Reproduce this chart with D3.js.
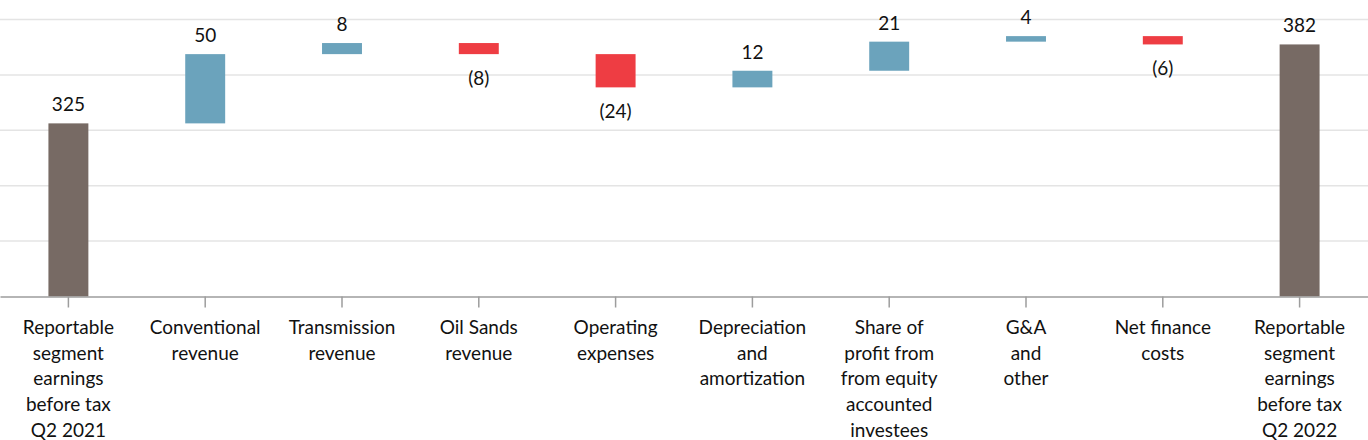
<!DOCTYPE html>
<html>
<head>
<meta charset="utf-8">
<script src="https://cdn.jsdelivr.net/npm/d3@7"></script>
<style>
  body { margin: 0; background: #fff; }
  svg { display: block; }
  text { font-family: Lato, "Open Sans", sans-serif; fill: #111; }
</style>
</head>
<body>
<script>
// waterfall steps, first and last are totals
var categories = [
  "Reportable|segment|earnings|before tax|Q2 2021",
  "Conventional|revenue",
  "Transmission|revenue",
  "Oil Sands|revenue",
  "Operating|expenses",
  "Depreciation|and|amortization",
  "Share of|profit from|from equity|accounted|investees",
  "G&A|and|other",
  "Net finance|costs",
  "Reportable|segment|earnings|before tax|Q2 2022"
];
var values = [325, 50, 8, -8, -24, 12, 21, 4, -6, 382];
var isTotal = [true, false, false, false, false, false, false, false, false, true];
var yTicks = [200, 240, 280, 320, 360, 400];

var w = 1368, h = 440;
var colors = { total: "#776a64", up: "#6ba3bc", down: "#ee3d43" };

// build start / end for every bar
var running = 0;
var data = values.map(function(v, i) {
  var d = { key: categories[i], value: v };
  if (isTotal[i]) {
    d.start = 200; d.end = v; running = v; d.type = "total";
  } else {
    d.start = running; d.end = running + v; running = d.end;
    d.type = v >= 0 ? "up" : "down";
  }
  return d;
});

var svg = d3.select("body").append("svg")
  .attr("width", w)
  .attr("height", h);

var x = d3.scaleBand()
  .domain(categories)
  .range([0, w])
  .paddingInner(0.708)
  .paddingOuter(0.354);

var y = d3.scaleLinear()
  .domain([200, 400])
  .range([296.5, 19.5]);

// gridlines
svg.append("g")
  .attr("class", "grid")
  .selectAll("line")
  .data(yTicks.slice(1))
  .enter()
  .append("line")
  .attr("x1", 0)
  .attr("x2", w)
  .attr("y1", function(d) { return y(d); })
  .attr("y2", function(d) { return y(d); })
  .attr("stroke", "#e4e4e4")
  .attr("stroke-width", 1.5);

// bars
svg.append("g")
  .selectAll("rect")
  .data(data)
  .enter()
  .append("rect")
  .attr("x", function(d) { return x(d.key); })
  .attr("width", x.bandwidth())
  .attr("y", function(d) { return y(Math.max(d.start, d.end)); })
  .attr("height", function(d) { return Math.abs(y(d.start) - y(d.end)); })
  .attr("fill", function(d) { return colors[d.type]; });

// value labels
svg.append("g")
  .selectAll("text")
  .data(data)
  .enter()
  .append("text")
  .attr("text-anchor", "middle")
  .attr("font-size", "19px")
  .attr("x", function(d) { return x(d.key) + x.bandwidth() / 2; })
  .attr("y", function(d) {
    if (d.type === "down") return y(d.end) + 31;
    return y(Math.max(d.start, d.end)) - 12;
  })
  .text(function(d) { return d.value < 0 ? "(" + Math.abs(d.value) + ")" : d.value; });

// x axis
var xAxis = svg.append("g")
  .attr("transform", "translate(0," + y(200) + ")")
  .call(d3.axisBottom(x).tickSize(11).tickSizeOuter(0));

xAxis.select(".domain").attr("stroke", "#9d9d9d").attr("stroke-width", 1.5);
xAxis.selectAll(".tick line").attr("stroke", "#9d9d9d").attr("stroke-width", 1.5);

xAxis.selectAll(".tick text").each(function(d) {
  var t = d3.select(this);
  t.text(null)
    .attr("y", 0)
    .attr("dy", null)
    .attr("font-size", "19px")
    .attr("font-family", "Lato, 'Open Sans', sans-serif")
    .attr("fill", "#111");
  d.split("|").forEach(function(line, i) {
    t.append("tspan")
      .attr("x", 0)
      .attr("y", 37.5 + i * 25.7)
      .text(line);
  });
});
</script>
</body>
</html>
